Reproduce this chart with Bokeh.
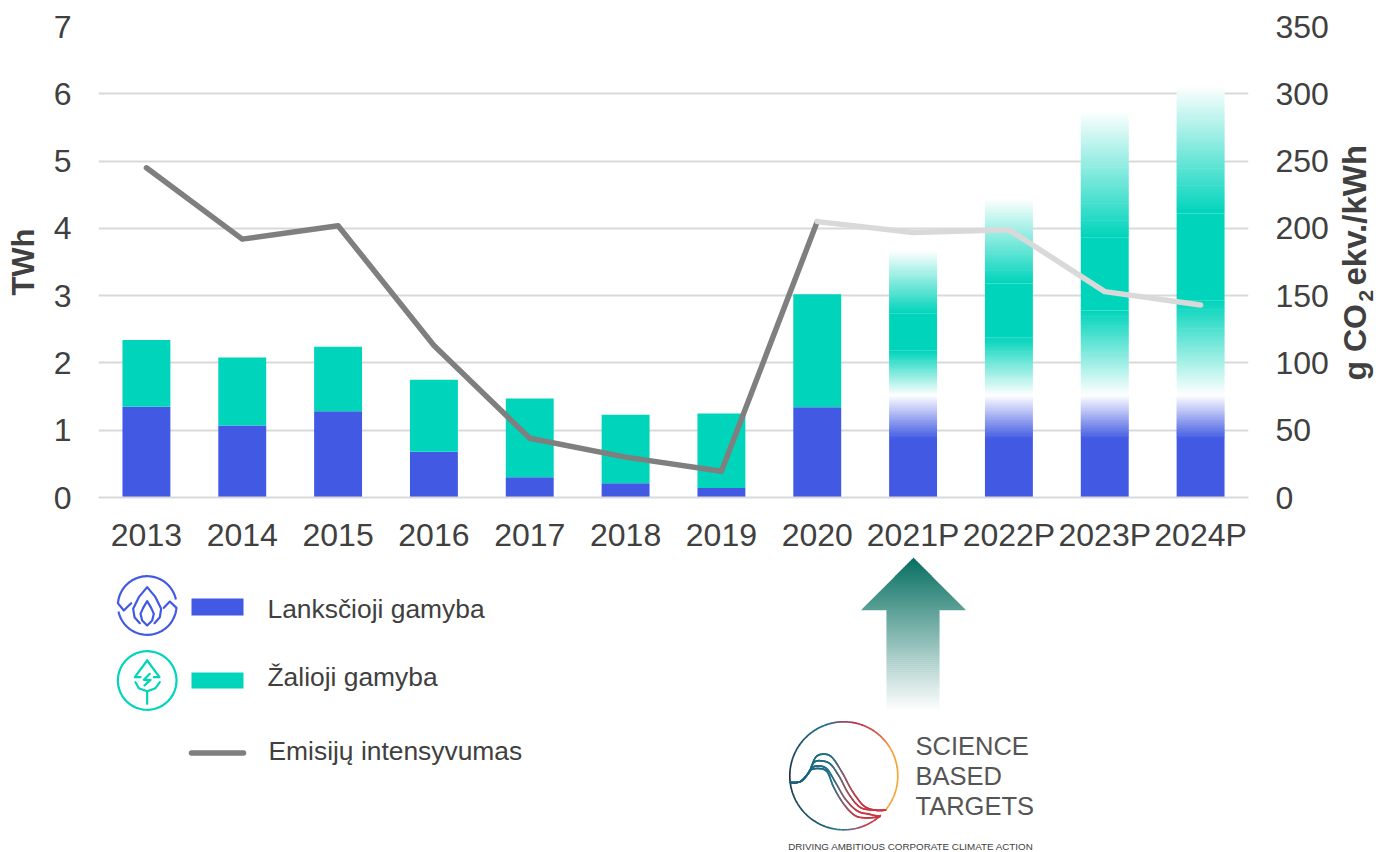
import numpy as np
from bokeh.plotting import figure
from bokeh.layouts import column, row
from bokeh.models import Range1d, LinearAxis, FixedTicker, FactorRange
from bokeh.core.properties import value
from bokeh.embed import file_html
from bokeh.resources import INLINE

# ---- data ----
years = ["2013","2014","2015","2016","2017","2018","2019","2020","2021P","2022P","2023P","2024P"]
actual_years = years[:8]
plan_years = years[8:]
flexible = [1.35,1.07,1.28,0.68,0.30,0.21,0.14,1.34]
green_top = [2.34,2.08,2.24,1.75,1.47,1.23,1.25,3.02]
plan_flex_solid = [0.87,0.87,0.87,0.87]
plan_flex_top = [1.52,1.52,1.52,1.52]
plan_green_solid_low = [2.18,2.38,2.78,2.93]
plan_green_solid_high = [2.73,3.18,3.86,4.22]
plan_green_top = [3.67,4.44,5.75,6.12]
intensity_dark = [245,192,202,113,44,30,19.5,205]
intensity_light = [205,197,199,153,143]
light_years = years[7:]
left_ticks = [0,1,2,3,4,5,6,7]
right_ticks = [0,50,100,150,200,250,300,350]
legend_labels = ["Lanksčioji gamyba","Žalioji gamyba","Emisijų intensyvumas"]

BLUE = "#4159e3"
GREEN = "#00d4bb"
TEXT = "#404040"
GRID = "#d9d9d9"
FONT = "Liberation Sans"

def mix(c, t):
    """t=0 white, t=1 colour"""
    r = [int(c[i:i+2],16) for i in (1,3,5)]
    return "#%02x%02x%02x" % tuple(round(255+(v-255)*t) for v in r)

p = figure(frame_width=1150, frame_height=471, x_range=FactorRange(factors=years, range_padding=0),
           y_range=Range1d(0,7), output_backend="svg", toolbar_location=None,
           min_border_left=98, min_border_right=88, min_border_top=26, min_border_bottom=58)
p.outline_line_color = None
p.extra_y_ranges = {"co2": Range1d(0,350)}
p.xgrid.visible = False
p.ygrid.grid_line_color = GRID
p.ygrid.grid_line_width = 2
p.ygrid.ticker = FixedTicker(ticks=left_ticks)

ax = p.yaxis[0]
ax.ticker = FixedTicker(ticks=left_ticks)
ax.axis_line_color = None; ax.major_tick_line_color = None; ax.minor_tick_line_color = None
ax.major_label_text_font = FONT; ax.major_label_text_font_size = "32px"; ax.major_label_text_color = TEXT
ax.major_label_standoff = 21
ax.axis_label = "TWh"; ax.axis_label_text_font = FONT; ax.axis_label_text_font_size = "31px"
ax.axis_label_text_font_style = "bold"; ax.axis_label_text_color = TEXT; ax.axis_label_standoff = 10

rax = LinearAxis(y_range_name="co2", ticker=FixedTicker(ticks=right_ticks))
rax.axis_line_color = None; rax.major_tick_line_color = None; rax.minor_tick_line_color = None
rax.major_label_text_font = FONT; rax.major_label_text_font_size = "32px"; rax.major_label_text_color = TEXT
rax.major_label_standoff = 21
p.add_layout(rax, "right")

xa = p.xaxis[0]
xa.axis_line_color = GRID; xa.axis_line_width = 2
xa.major_tick_line_color = None; xa.minor_tick_line_color = None
xa.major_label_text_font = FONT; xa.major_label_text_font_size = "32px"; xa.major_label_text_color = TEXT
xa.major_label_standoff = 13
xa.major_label_orientation = "horizontal"

BW = 0.5
p.vbar(x=actual_years, bottom=0, top=flexible, width=BW, fill_color=BLUE, line_color=None)
p.vbar(x=actual_years, bottom=flexible, top=green_top, width=BW, fill_color=GREEN, line_color=None)

def fade_bands(yr, y0, y1, c, t0, t1, n):
    """opaque strips fading from strength t0 at y0 to t1 at y1, overlapping slightly"""
    edges = np.linspace(y0, y1, n+1)
    xs, bots, tops, cols = [], [], [], []
    for i in range(n):
        xs.append(yr); bots.append(edges[i]); tops.append(edges[i+1] + (0.01 if i < n-1 else 0))
        cols.append(mix(c, t0 + (t1-t0)*(i+0.5)/n))
    p.vbar(x=xs, bottom=bots, top=tops, width=BW, fill_color=cols, line_color=None)

for i, yr in enumerate(plan_years):
    p.vbar(x=[yr], bottom=[0], top=[plan_flex_solid[i]], width=BW, fill_color=BLUE, line_color=None)
    fade_bands(yr, plan_flex_solid[i], plan_flex_top[i], BLUE, 1, 0, 28)
    fade_bands(yr, plan_flex_top[i], plan_green_solid_low[i], GREEN, 0, 1, 40)
    p.vbar(x=[yr], bottom=[plan_green_solid_low[i]], top=[plan_green_solid_high[i]], width=BW, fill_color=GREEN, line_color=None)
    fade_bands(yr, plan_green_solid_high[i], plan_green_top[i], GREEN, 1, 0, 60)

p.line(actual_years, intensity_dark, y_range_name="co2", line_color="#7f7f7f", line_width=5.5, line_cap="round", line_join="round")
p.line(light_years, intensity_light, y_range_name="co2", line_color="#d9d9d9", line_width=5.5, line_cap="round", line_join="round")

# right-hand axis title: a narrow strip beside the chart, so that it reads upwards with a true subscript
r = figure(frame_width=40, frame_height=555, x_range=Range1d(1336,1376), y_range=Range1d(555,0),
           output_backend="svg", toolbar_location=None, min_border=0)
r.outline_line_color = None
r.axis.visible = False
r.grid.visible = False
for txt, by, bx, fs in [("g CO", 354, 1354, "32px"), ("2", 275, 1365, "21px"), ("ekv./kWh", 259, 1354, "33px")]:
    r.text([bx],[by],text=[txt],angle=np.pi/2,text_font=value(FONT),text_font_size=fs,text_font_style="bold",
           text_color=TEXT,text_align="left",text_baseline="alphabetic")

# ---- lower panel: legend and logo, in page pixels ----
q = figure(frame_width=1150, frame_height=297, x_range=Range1d(98,1248), y_range=Range1d(852,555),
           output_backend="svg", toolbar_location=None, min_border=0,
           min_border_left=98, min_border_right=88)
q.outline_line_color = None
q.axis.visible = False
q.grid.visible = False

q.quad(left=[191],right=[243],top=[598],bottom=[615],fill_color=BLUE,line_color=None)
q.quad(left=[191],right=[243],top=[672],bottom=[688],fill_color=GREEN,line_color=None)
q.line([191,243],[752.5,752.5],line_color="#7f7f7f",line_width=5.5,line_cap="round")
for lab, lx, ly in zip(legend_labels,[267,267,268],[608,676,750]):
    q.text([lx],[ly],text=[lab],text_font=value(FONT),text_font_size="26.4px",text_color=TEXT,
           text_baseline="middle",text_align="left")

def arc(cx,cy,r_,a0,a1,n=60):
    a=np.radians(np.linspace(a0,a1,n))
    return cx+r_*np.cos(a), cy-r_*np.sin(a)

def zln(pts,c,ox=110,oy=570,w=2.2):
    q.line([ox+a/3 for a,b in pts],[oy+b/3 for a,b in pts],line_color=c,line_width=w,line_cap="round",line_join="round")

# blue icon
cx,cy=146.7,605
x,y=arc(cx,cy,29.3,12,175); q.line(x,y,line_color=BLUE,line_width=2.2)
x,y=arc(cx,cy,29.3,192,355); q.line(x,y,line_color=BLUE,line_width=2.2)
zln([(22,98),(40,120),(62,98)],BLUE)
zln([(198,112),(178,93),(160,112)],BLUE)
zln([(88,158),(72,140),(68,115),(85,80),(110,50),(135,80),(152,115),(148,140),(132,158)],BLUE)
zln([(110,92),(122,112),(130,130),(125,150),(110,165),(95,150),(90,130),(98,112),(110,92)],BLUE)

# green icon
cx,cy=146.7,680
x,y=arc(cx,cy,29.3,0,360,90); q.line(x,y,line_color=GREEN,line_width=2.2)
zln([(110,270),(147,320),(130,320)],GREEN)
zln([(110,270),(73,320),(90,320)],GREEN)
zln([(75,335),(85,353),(110,362),(135,353),(148,335)],GREEN)
zln([(110,362),(110,400)],GREEN)
zln([(118,310),(100,328),(120,328),(102,345)],GREEN)

# arrow
ATOP="#066e60"
n=76
ys=np.linspace(557,710,n+1)
for i in range(n):
    y0,y1=ys[i],ys[i+1]
    col=mix(ATOP,1-(i+0.5)/n)
    if y1<=610:
        h0=y0-557; h1=y1-557
        q.patch([913-h0,913+h0,913+h1,913-h1],[y0,y0,y1+0.5,y1+0.5],fill_color=col,line_color=None)
    else:
        q.quad(left=[886],right=[939],top=[y0],bottom=[y1+0.5],fill_color=col,line_color=None)

# logo ring
stops=[(0,"#f2a93b"),(30,"#f0a040"),(50,"#d9534a"),(75,"#b5324a"),(90,"#8a4a6a"),(105,"#1f7088"),(135,"#1d5a78"),(180,"#1f3344"),(250,"#1c5f78"),(265,"#2a7a94"),(280,"#8a5a7a"),(295,"#c23a48"),(312,"#d03c44"),(321,"#f2a93b"),(360,"#f2a93b")]
def lerp(c0,c1,t):
    a=[int(c0[i:i+2],16) for i in (1,3,5)];b=[int(c1[i:i+2],16) for i in (1,3,5)]
    return "#%02x%02x%02x"%tuple(round(u+(v-u)*t) for u,v in zip(a,b))
def ringcol(a):
    for (a0,c0),(a1,c1) in zip(stops,stops[1:]):
        if a0<=a<=a1: return lerp(c0,c1,(a-a0)/(a1-a0))
    return stops[-1][1]
for a in range(-39,311,4):
    x,y=arc(843.3,775.3,54,a,a+4.4,4)
    q.line(x,y,line_color=ringcol(a%360),line_width=1.7)

def catmull(P,m=10):
    P=np.array(P,float);P=np.vstack([P[0],P,P[-1]]);out=[]
    for i in range(1,len(P)-2):
        for t in np.linspace(0,1,m,endpoint=False):
            out.append(0.5*((2*P[i])+(-P[i-1]+P[i+1])*t+(2*P[i-1]-5*P[i]+4*P[i+1]-P[i+2])*t**2+(-P[i-1]+3*P[i]-3*P[i+1]+P[i+2])*t**3))
    out.append(P[-2]);return np.array(out)
start=[(30,210),(60,207),(85,180)]
curves=[
 [(105,135),(130,125),(155,135),(185,180),(215,235),(250,280),(285,293),(315,293)],
 [(100,150),(122,145),(150,155),(178,195),(205,245),(240,285),(285,293),(315,293)],
 [(95,165),(115,160),(140,170),(165,210),(195,260),(230,295),(265,305),(298,312)],
 [(90,172),(115,168),(140,178),(160,225),(190,275),(225,310),(265,316),(298,312)],
]
for c in curves:
    pts=catmull(start+c)
    X=780+pts[:,0]/3;Y=712+pts[:,1]/3
    for i in range(len(X)-1):
        px=pts[i,0]
        col=lerp("#1c5f78","#1f7088",(px-30)/120) if px<150 else (lerp("#1f7088","#8a5a6a",(px-150)/40) if px<190 else lerp("#8a5a6a","#c8353f",min((px-190)/45,1)))
        q.line(X[i:i+2],Y[i:i+2],line_color=col,line_width=1.7,line_cap="round")

for s,yy in zip(["SCIENCE","BASED","TARGETS"],[745,775,805]):
    q.text([915],[yy],text=[s],text_font=value(FONT),text_font_size="25.5px",text_color="#555555",
           text_baseline="middle",text_align="left")
q.text([910.5],[846],text=["DRIVING AMBITIOUS CORPORATE CLIMATE ACTION"],text_font=value(FONT),
       text_font_size="9.8px",text_color="#404040",text_baseline="middle",text_align="center")

layout=column(row(p,r,spacing=0),q,spacing=0)
open("out.html","w").write(file_html(layout,INLINE))
